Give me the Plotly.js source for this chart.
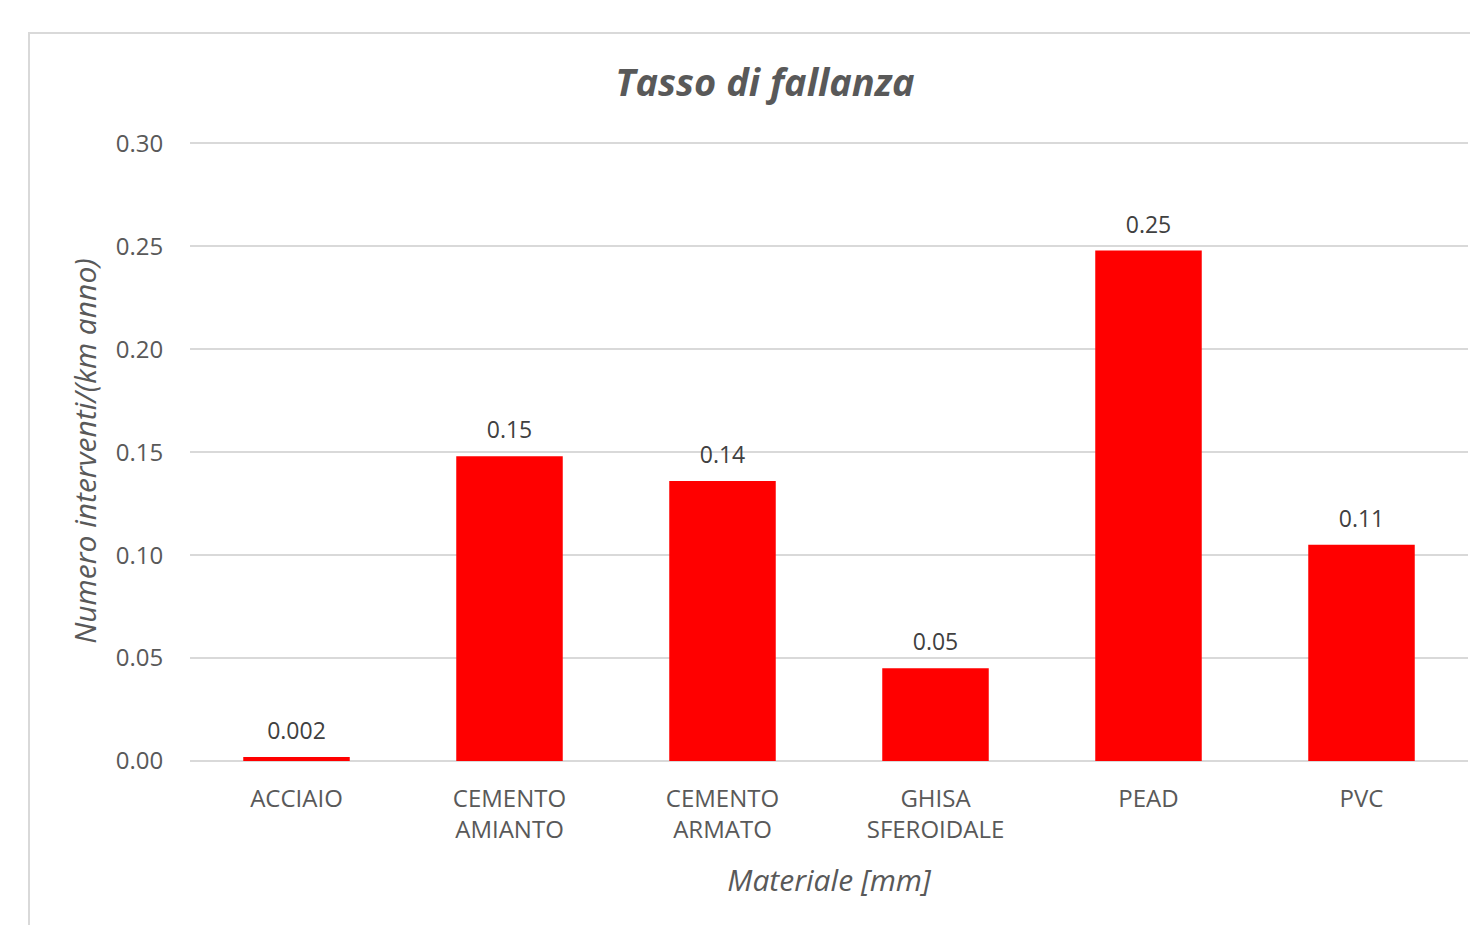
<!DOCTYPE html>
<html>
<head>
<meta charset="utf-8">
<script src="https://cdn.plot.ly/plotly-3.0.1.min.js"></script>
<style>
html,body{margin:0;padding:0;background:#fff;}
#frame{position:absolute;left:28px;top:32px;width:1500px;height:950px;border:2px solid #d9d9d9;box-sizing:border-box;}
#chart{position:absolute;left:0;top:0;width:1470px;height:925px;}
</style>
</head>
<body>
<div id="frame"></div>
<div id="chart"></div>
<script>
const categories = ["ACCIAIO", "CEMENTO<br>AMIANTO", "CEMENTO<br>ARMATO", "GHISA<br>SFEROIDALE", "PEAD", "PVC"];
const values = [0.002, 0.148, 0.136, 0.045, 0.248, 0.105];
const labels = ["0.002", "0.15", "0.14", "0.05", "0.25", "0.11"];
const yTicks = [0, 0.05, 0.10, 0.15, 0.20, 0.25, 0.30];
const yTickText = ["0.00", "0.05", "0.10", "0.15", "0.20", "0.25", "0.30"];

const font = "'Open Sans', 'Noto Sans', sans-serif";

const bars = {
  type: 'bar',
  x: categories,
  y: values,
  marker: {color: '#ff0000', line: {width: 0}},
  hoverinfo: 'x+y'
};

const barLabels = {
  type: 'scatter',
  mode: 'markers+text',
  x: categories,
  y: values,
  text: labels,
  textposition: 'top center',
  cliponaxis: false,
  textfont: {family: font, size: 23, color: '#404040'},
  marker: {size: 18, color: 'rgba(0,0,0,0)'},
  hoverinfo: 'skip'
};

const layout = {
  width: 1470,
  height: 925,
  paper_bgcolor: 'rgba(0,0,0,0)',
  plot_bgcolor: 'rgba(0,0,0,0)',
  margin: {l: 190, r: 2, t: 141, b: 164},
  bargap: 0.5,
  showlegend: false,
  title: {
    text: '<b><i>Tasso di fallanza</i></b>',
    font: {family: font, size: 38, color: '#595959'},
    xref: 'container', yref: 'container',
    x: 765/1470, xanchor: 'center',
    y: 1 - 83/925, yanchor: 'middle'
  },
  xaxis: {
    type: 'category',
    tickfont: {family: font, size: 24, color: '#595959'},
    ticks: 'outside', ticklen: 16, tickcolor: 'rgba(0,0,0,0)',
    showline: false, showgrid: false, zeroline: false,
    title: {text: '<i>Materiale [mm]</i>', font: {family: font, size: 30, color: '#595959'}, standoff: 25}
  },
  yaxis: {
    range: [0, 0.3012],
    tickvals: yTicks,
    ticktext: yTickText,
    tickfont: {family: font, size: 24, color: '#595959'},
    ticks: 'outside', ticklen: 21, tickcolor: 'rgba(0,0,0,0)',
    showgrid: true, gridcolor: '#d9d9d9', gridwidth: 2,
    zeroline: true, zerolinecolor: '#d9d9d9', zerolinewidth: 2,
    showline: false,
    title: {text: '<i>Numero interventi/(km anno)</i>', font: {family: font, size: 30, color: '#595959'}, standoff: 10}
  }
};

Plotly.newPlot('chart', [bars, barLabels], layout, {displayModeBar: false, staticPlot: true});
</script>
</body>
</html>
